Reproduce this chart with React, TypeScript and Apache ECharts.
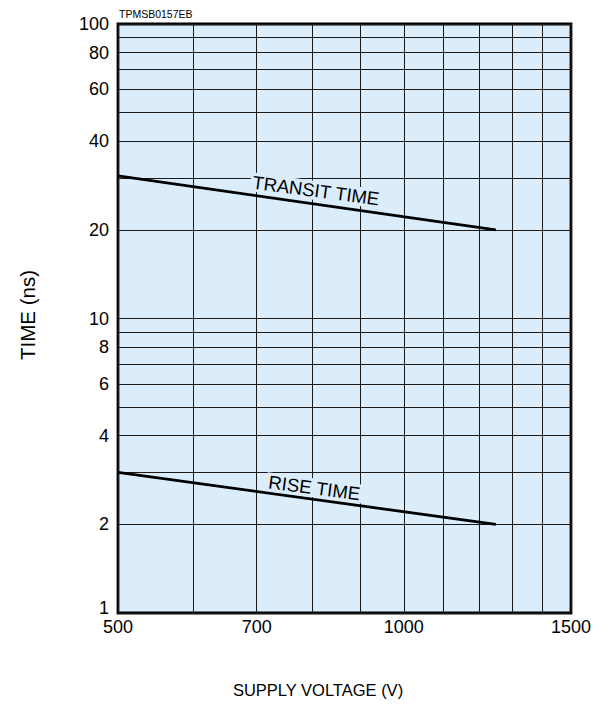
import React, { useEffect, useRef } from "react";
import * as echarts from "echarts";

const xTickValues = [500, 600, 700, 800, 900, 1000, 1100, 1200, 1300, 1400, 1500];
const xLabelValues = [500, 700, 1000, 1500];
const yTickValues = [1, 2, 3, 4, 5, 6, 7, 8, 9, 10, 20, 30, 40, 50, 60, 70, 80, 90, 100];
const yLabelValues = [1, 2, 4, 6, 8, 10, 20, 40, 60, 80, 100];

const transitVoltage = [500, 1250];
const transitTime = [30.5, 20];
const riseVoltage = [500, 1250];
const riseTime = [3, 2];

const transitLabel = { text: "TRANSIT TIME", at: [808, 27.2] };
const riseLabel = { text: "RISE TIME", at: [805, 2.66] };

const FONT = "'Liberation Sans', Arial, Helvetica, sans-serif";
const BG = "#dbedfb";

export default function App() {
  const ref = useRef<HTMLDivElement>(null);
  useEffect(() => {
    document.body.style.margin = "0";
    const chart = echarts.init(ref.current!, null, { renderer: "svg" });
    const mkLine = (xs: number[], ys: number[], lab: { text: string; at: number[] }, rot: number) => ({
      type: "line",
      data: xs.map((x, i) => [x, ys[i]]),
      symbol: "none",
      lineStyle: { color: "#000", width: 2.8 },
      markPoint: {
        symbol: "circle",
        symbolSize: 0,
        data: [{ coord: lab.at }],
        label: {
          show: true,
          position: "inside",
          formatter: lab.text,
          rotate: rot,
          fontSize: 18.5,
          fontFamily: FONT,
          color: "#000",
          backgroundColor: BG,
          padding: [0, 2],
        },
      },
    });
    chart.setOption({
      animation: false,
      grid: {
        left: 118,
        right: 38,
        top: 24,
        bottom: 92,
        show: true,
        backgroundColor: BG,
        borderColor: "#000",
        borderWidth: 2.8,
      },
      xAxis: {
        type: "log",
        logBase: 10,
        min: 500,
        max: 1500,
        axisLine: { show: false },
        axisTick: { show: false, customValues: xTickValues },
        axisLabel: {
          customValues: xLabelValues,
          formatter: (v: number) => String(Math.round(v)),
          fontSize: 18,
          fontFamily: FONT,
          color: "#000",
          margin: 5,
        },
        splitLine: { show: true, lineStyle: { color: "#1a1a1a", width: 1 } },
      },
      yAxis: {
        type: "log",
        logBase: 10,
        min: 1,
        max: 100,
        axisLine: { show: false },
        axisTick: { show: false, customValues: yTickValues },
        axisLabel: {
          customValues: yLabelValues,
          formatter: (v: number) => (Math.round(v) === 1 ? "{one|1}" : String(Math.round(v))),
          rich: {
            one: { fontSize: 18, fontFamily: FONT, color: "#000", padding: [0, 0, 10, 0] },
          },
          fontSize: 18,
          fontFamily: FONT,
          color: "#000",
          margin: 9,
        },
        splitLine: { show: true, lineStyle: { color: "#1a1a1a", width: 1 } },
      },
      graphic: [
        {
          type: "text",
          x: 119,
          y: 14,
          style: {
            text: "TPMSB0157EB",
            fontSize: 10.5,
            fontFamily: FONT,
            fill: "#000",
            align: "left",
            verticalAlign: "middle",
          },
        },
        {
          type: "text",
          x: 318,
          y: 690,
          style: {
            text: "SUPPLY VOLTAGE (V)",
            fontSize: 16.5,
            fontFamily: FONT,
            fill: "#000",
            align: "center",
            verticalAlign: "middle",
          },
        },
        {
          type: "text",
          x: 27,
          y: 315,
          rotation: Math.PI / 2,
          style: {
            text: "TIME (ns)",
            fontSize: 20.5,
            fontFamily: FONT,
            fill: "#000",
            align: "center",
            verticalAlign: "middle",
          },
        },
      ],
      series: [
        mkLine(transitVoltage, transitTime, transitLabel, -7.7),
        mkLine(riseVoltage, riseTime, riseLabel, -7.5),
      ],
    });
    return () => chart.dispose();
  }, []);
  return <div ref={ref} style={{ width: 609, height: 705 }} />;
}
